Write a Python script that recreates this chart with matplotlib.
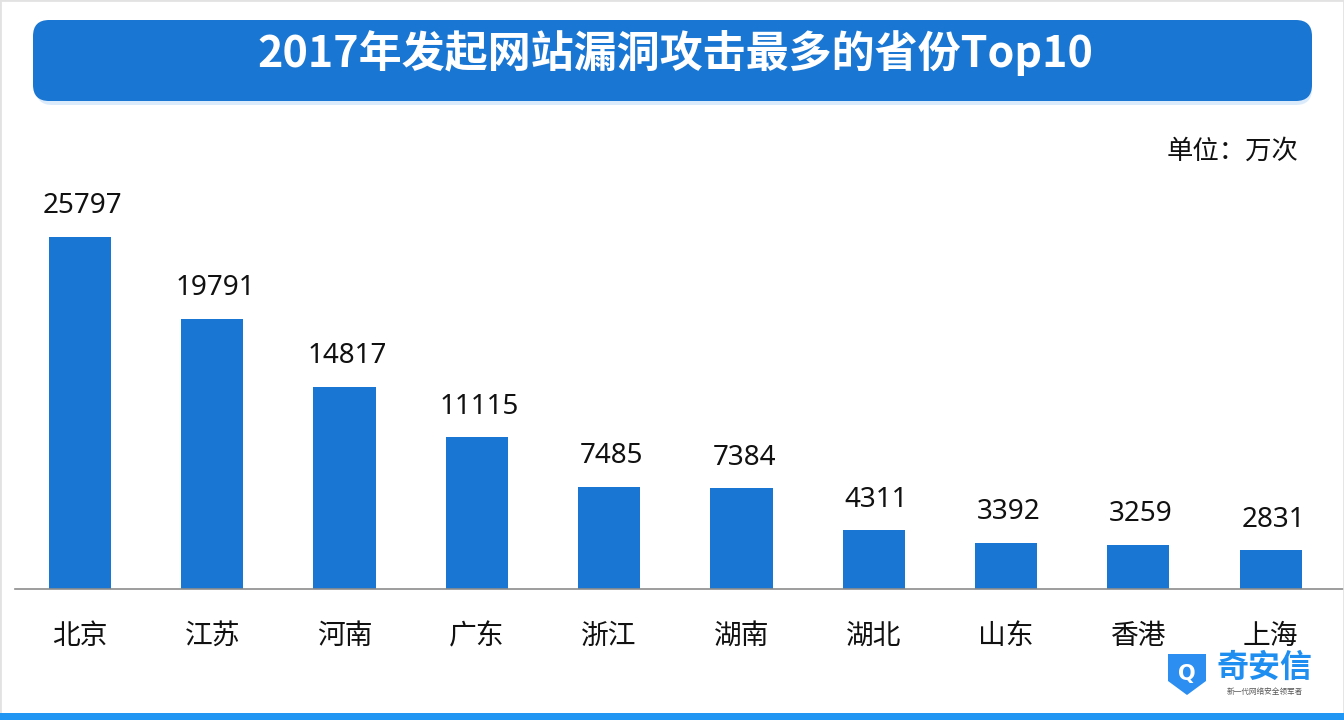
import matplotlib
matplotlib.use("Agg")
import matplotlib.pyplot as plt
from matplotlib.patches import FancyBboxPatch, Rectangle, Polygon

plt.rcParams['font.family'] = ['Noto Sans CJK SC', 'DejaVu Sans']

categories = ['北京', '江苏', '河南', '广东', '浙江', '湖南', '湖北', '山东', '香港', '上海']
values = [25797, 19791, 14817, 11115, 7485, 7384, 4311, 3392, 3259, 2831]
title = '2017年发起网站漏洞攻击最多的省份Top10'
unit_label = '单位：万次'

W, H = 1344, 720
BLUE = '#1976D2'

fig = plt.figure(figsize=(W / 100, H / 100), dpi=100)
fig.patch.set_facecolor('white')

def fx(px):
    return px / W

def fy(py):
    return 1 - py / H

# figure border
fig.patches.append(Rectangle((0, 0), 1, 1, transform=fig.transFigure,
                             fill=False, edgecolor='#e2e2e2', linewidth=2, zorder=0))

# title banner shadow + banner
fig.patches.append(FancyBboxPatch((fx(36), fy(105)), fx(1312 - 36), (101 - 21) / H,
                                  boxstyle='round,pad=0,rounding_size=0.012',
                                  transform=fig.transFigure, facecolor='#dcebfb',
                                  edgecolor='none', zorder=1, mutation_aspect=W / H))
fig.patches.append(FancyBboxPatch((fx(33), fy(101)), fx(1312 - 33), (101 - 20) / H,
                                  boxstyle='round,pad=0,rounding_size=0.012',
                                  transform=fig.transFigure, facecolor=BLUE,
                                  edgecolor='none', zorder=2, mutation_aspect=W / H))
fig.text(fx(675), fy(53), title, color='white', fontsize=31, fontweight='bold',
         ha='center', va='center', zorder=3)

# bottom strip
fig.patches.append(Rectangle((0, 0), 1, 7 / H, transform=fig.transFigure,
                             facecolor='#2196F3', edgecolor='none', zorder=3))

# unit label
fig.text(fx(1298), fy(151), unit_label, fontsize=19, ha='right', va='center', color='#111111')

# axes
ax_bottom = 589
ax_top = 150
ax = fig.add_axes([fx(15), fy(ax_bottom), fx(1344 - 15), (ax_bottom - ax_top) / H])
ax.set_facecolor('none')
x = list(range(len(categories)))
ax.bar(x, values, width=0.47, color=BLUE, zorder=2)
ax.set_xlim(-0.491, 9.554)
ax.set_ylim(0, (ax_bottom - ax_top) / (352 / 25797))
for xi, v in zip(x, values):
    ax.annotate(f'{v}', (xi, v), xytext=(2, 12), textcoords='offset points',
                ha='center', va='bottom', fontsize=20, color='#111111',
                family=['Noto Sans', 'DejaVu Sans'])
ax.set_xticks(x)
ax.set_xticklabels(categories, fontsize=20, color='#111111')
ax.tick_params(axis='x', length=0, pad=23)
ax.set_yticks([])
for s in ['top', 'right', 'left']:
    ax.spines[s].set_visible(False)
ax.spines['bottom'].set_color('#8c8c8c')
ax.spines['bottom'].set_linewidth(1.2)

# logo
shield = [(1168, 654), (1206, 654), (1206, 681), (1187, 695), (1168, 681)]
fig.patches.append(Polygon([(fx(a), fy(b)) for a, b in shield], closed=True,
                           transform=fig.transFigure, facecolor='#2b8ef0',
                           edgecolor='none', zorder=3))
fig.text(fx(1187), fy(674), 'Q', color='white', fontsize=15, fontweight='bold',
         ha='center', va='center', zorder=4, family=['DejaVu Sans'])
fig.text(fx(1265), fy(668), '奇安信', color='#1f8ef1', fontsize=23, fontweight='bold',
         ha='center', va='center')
fig.text(fx(1265), fy(692), '新一代网络安全领军者', color='#555555', fontsize=5.5,
         ha='center', va='center')

fig.savefig('out.png', dpi=100, facecolor='white')
